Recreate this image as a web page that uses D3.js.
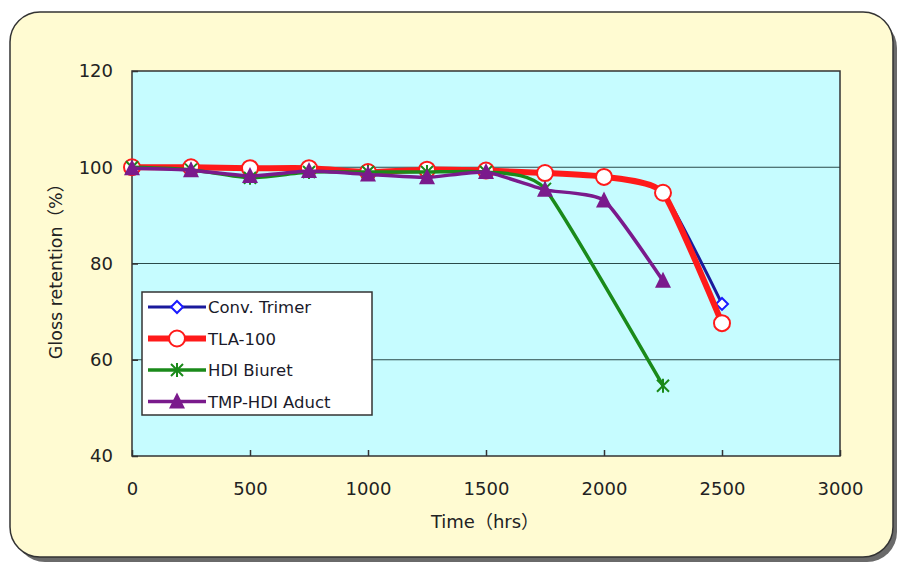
<!DOCTYPE html>
<html>
<head>
<meta charset="utf-8">
<script src="https://cdn.jsdelivr.net/npm/d3@7"></script>
<style>
  body { margin: 0; background: #fff; }
  svg { display: block; }
</style>
</head>
<body>
<svg id="chart" width="902" height="566"></svg>
<script>
// data
const hours = [0, 250, 500, 750, 1000, 1250, 1500, 1750, 2000, 2250, 2500];
const convTrimer = [100, 100, 99.8, 99.8, 99, 99.5, 99.3, 98.8, 98, 94.7, 71.6];
const tla100 = [100, 100, 99.8, 99.8, 99, 99.5, 99.3, 98.8, 98, 94.7, 67.6];
const hdiBiuretHours = [0, 250, 500, 750, 1000, 1250, 1500, 1750, 2250];
const hdiBiuret = [100, 99.5, 97.8, 99, 99, 99, 99, 95.5, 54.6];
const tmpHours = [0, 250, 500, 750, 1000, 1250, 1500, 1750, 2000, 2250];
const tmpHdi = [99.8, 99.4, 98.2, 99.2, 98.5, 97.9, 99, 95.3, 93.1, 76.4];

const xTicks = [0, 500, 1000, 1500, 2000, 2500, 3000];
const yTicks = [40, 60, 80, 100, 120];

const series = [
  { name: "Conv. Trimer", xs: hours, ys: convTrimer, color: "#1a1a9c", width: 3, marker: "diamond" },
  { name: "TLA-100", xs: hours, ys: tla100, color: "#ff1a1a", width: 6, marker: "circle" },
  { name: "HDI Biuret", xs: hdiBiuretHours, ys: hdiBiuret, color: "#1a8a1a", width: 3.5, marker: "star" },
  { name: "TMP-HDI Aduct", xs: tmpHours, ys: tmpHdi, color: "#7a1a8c", width: 3.5, marker: "triangle" }
];

const svg = d3.select("#chart");
const plotL = 132, plotR = 840, plotT = 71, plotB = 456;
const font = "DejaVu Sans, Noto Sans CJK JP, sans-serif";

// card with shadow
svg.append("rect").attr("x", 15).attr("y", 18).attr("width", 882).attr("height", 544)
  .attr("rx", 30).attr("fill", "#6a6a6a");
svg.append("rect").attr("x", 10).attr("y", 12).attr("width", 883).attr("height", 545)
  .attr("rx", 30).attr("fill", "#fffbd2").attr("stroke", "#333").attr("stroke-width", 1.5);

const x = d3.scaleLinear().domain([0, 3000]).range([plotL, plotR]);
const y = d3.scaleLinear().domain([40, 120]).range([plotB, plotT]);

svg.append("rect").attr("x", plotL).attr("y", plotT).attr("width", plotR - plotL).attr("height", plotB - plotT)
  .attr("fill", "#c6fcff");

// gridlines
svg.append("g").selectAll("line").data(yTicks.slice(1, -1)).join("line")
  .attr("x1", plotL).attr("x2", plotR)
  .attr("y1", d => y(d)).attr("y2", d => y(d))
  .attr("stroke", "#2a4a4a").attr("stroke-width", 1.2);

// axes
const xAxis = svg.append("g").attr("transform", `translate(0,${plotB})`)
  .call(d3.axisBottom(x).tickValues(xTicks).tickFormat(d3.format("d"))
    .tickSizeInner(-6).tickSizeOuter(0).tickPadding(26));
const yAxis = svg.append("g").attr("transform", `translate(${plotL},0)`)
  .call(d3.axisLeft(y).tickValues(yTicks).tickFormat(d3.format("d"))
    .tickSizeInner(-6).tickSizeOuter(0).tickPadding(19));
[xAxis, yAxis].forEach(a => {
  a.select(".domain").remove();
  a.selectAll("line").attr("stroke", "#333").attr("stroke-width", 1.5);
  a.selectAll("text").attr("font-family", font)
    .attr("font-size", 18).attr("fill", "#222");
});
svg.append("rect").attr("x", plotL).attr("y", plotT).attr("width", plotR - plotL).attr("height", plotB - plotT)
  .attr("fill", "none").attr("stroke", "#333").attr("stroke-width", 1.5);

svg.append("text").attr("x", 485).attr("y", 528).attr("text-anchor", "middle")
  .attr("font-family", font).attr("font-size", 18).attr("fill", "#222")
  .text("Time（hrs）");
svg.append("text").attr("transform", "translate(62,267) rotate(-90)").attr("text-anchor", "middle")
  .attr("font-family", font).attr("font-size", 17.5).attr("fill", "#222")
  .text("Gloss retention（%）");

// marker drawing
function drawMarker(g, type, color) {
  if (type === "circle") {
    g.append("circle").attr("r", 8).attr("fill", "#fff").attr("stroke", color).attr("stroke-width", 2);
  } else if (type === "diamond") {
    g.append("path").attr("d", "M0,-6L6,0L0,6L-6,0Z").attr("fill", "#fff").attr("stroke", "#1a1aff").attr("stroke-width", 2);
  } else if (type === "triangle") {
    g.append("path").attr("d", "M0,-9L8,7L-8,7Z").attr("fill", color);
  } else {
    g.append("path").attr("d", "M-6,-6L6,6M-6,6L6,-6M0,-7L0,7")
      .attr("stroke", color).attr("stroke-width", 2).attr("fill", "none");
  }
}

const line = d3.line().curve(d3.curveCardinal.tension(0.5));

series.forEach(s => {
  const pts = s.xs.map((h, i) => [x(h), y(s.ys[i])]);
  svg.append("path").attr("d", line(pts)).attr("fill", "none")
    .attr("stroke", s.color).attr("stroke-width", s.width).attr("stroke-linejoin", "round");
  pts.forEach(p => drawMarker(svg.append("g").attr("transform", `translate(${p[0]},${p[1]})`), s.marker, s.color));
});

// legend
const lg = svg.append("g").attr("transform", "translate(142,292)");
lg.append("rect").attr("width", 230).attr("height", 123).attr("fill", "#fff")
  .attr("stroke", "#333").attr("stroke-width", 1.5);
series.forEach((s, i) => {
  const yy = 15 + i * 31.5;
  lg.append("line").attr("x1", 6).attr("x2", 64).attr("y1", yy).attr("y2", yy)
    .attr("stroke", s.color).attr("stroke-width", s.width);
  drawMarker(lg.append("g").attr("transform", `translate(35,${yy})`), s.marker, s.color);
  lg.append("text").attr("x", 66).attr("y", yy + 6)
    .attr("font-family", font).attr("font-size", 16.5).attr("fill", "#1a1a2a")
    .text(s.name);
});
</script>
</body>
</html>
